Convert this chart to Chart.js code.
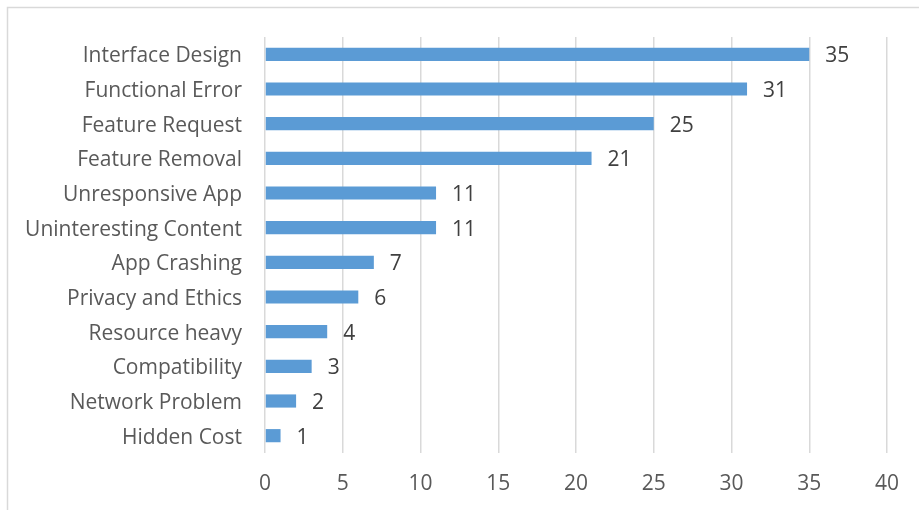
<!DOCTYPE html>
<html>
<head>
<meta charset="utf-8">
<script src="https://cdn.jsdelivr.net/npm/chart.js@4/dist/chart.umd.min.js"></script>
<style>
  html, body { margin: 0; padding: 0; background: #fff; }
  #wrap { width: 919px; height: 510px; position: relative; }
</style>
</head>
<body>
<div id="wrap"><canvas id="issueChart"></canvas></div>
<script>
// issue categories, top to bottom
const categories = [
  'Interface Design', 'Functional Error', 'Feature Request', 'Feature Removal',
  'Unresponsive App', 'Uninteresting Content', 'App Crashing', 'Privacy and Ethics',
  'Resource heavy', 'Compatibility', 'Network Problem', 'Hidden Cost'
];
const counts = [35, 31, 25, 21, 11, 11, 7, 6, 4, 3, 2, 1];
const xTicks = [0, 5, 10, 15, 20, 25, 30, 35, 40];

const FONT = '"Open Sans", Lato, sans-serif';

// light grey frame like the excel chart border
const framePlugin = {
  id: 'frame',
  beforeDraw(chart) {
    const ctx = chart.ctx;
    ctx.save();
    ctx.fillStyle = '#fff';
    ctx.fillRect(0, 0, chart.width, chart.height);
    ctx.strokeStyle = '#d9d9d9';
    ctx.lineWidth = 1.5;
    ctx.strokeRect(7.5, 7.5, chart.width + 50, chart.height + 50);
    ctx.restore();
  }
};

// value labels at bar ends
const valueLabels = {
  id: 'valueLabels',
  afterDatasetsDraw(chart) {
    const ctx = chart.ctx;
    ctx.save();
    ctx.font = '21px ' + FONT;
    ctx.fillStyle = '#404040';
    ctx.textBaseline = 'middle';
    chart.getDatasetMeta(0).data.forEach((bar, i) => {
      ctx.fillText(counts[i], bar.x + 16, bar.y + 2);
    });
    ctx.restore();
  }
};

const ctx = document.getElementById('issueChart').getContext('2d');
new Chart(ctx, {
  type: 'bar',
  data: {
    labels: categories,
    datasets: [{
      data: counts,
      backgroundColor: '#5b9bd5',
      borderWidth: 0,
      categoryPercentage: 1,
      barPercentage: 0.38
    }]
  },
  options: {
    indexAxis: 'y',
    responsive: true,
    maintainAspectRatio: false,
    animation: false,
    layout: { padding: { top: 37, right: 32, left: 0, bottom: 0 } },
    plugins: {
      legend: { display: false },
      tooltip: { enabled: false }
    },
    scales: {
      x: {
        min: 0,
        max: 40,
        afterBuildTicks: scale => { scale.ticks = xTicks.map(v => ({ value: v })); },
        afterFit: scale => { scale.height = 57; },
        grid: { color: '#d9d9d9', lineWidth: 1.5, drawTicks: false },
        border: { display: false },
        ticks: {
          padding: 18,
          color: '#595959',
          font: { family: FONT, size: 21 }
        }
      },
      y: {
        afterFit: scale => { scale.width = 265; },
        grid: { display: false, drawTicks: false },
        border: { display: false },
        ticks: {
          padding: 23,
          labelOffset: 2,
          color: '#595959',
          font: { family: FONT, size: 21 }
        }
      }
    }
  },
  plugins: [framePlugin, valueLabels]
});
</script>
</body>
</html>
